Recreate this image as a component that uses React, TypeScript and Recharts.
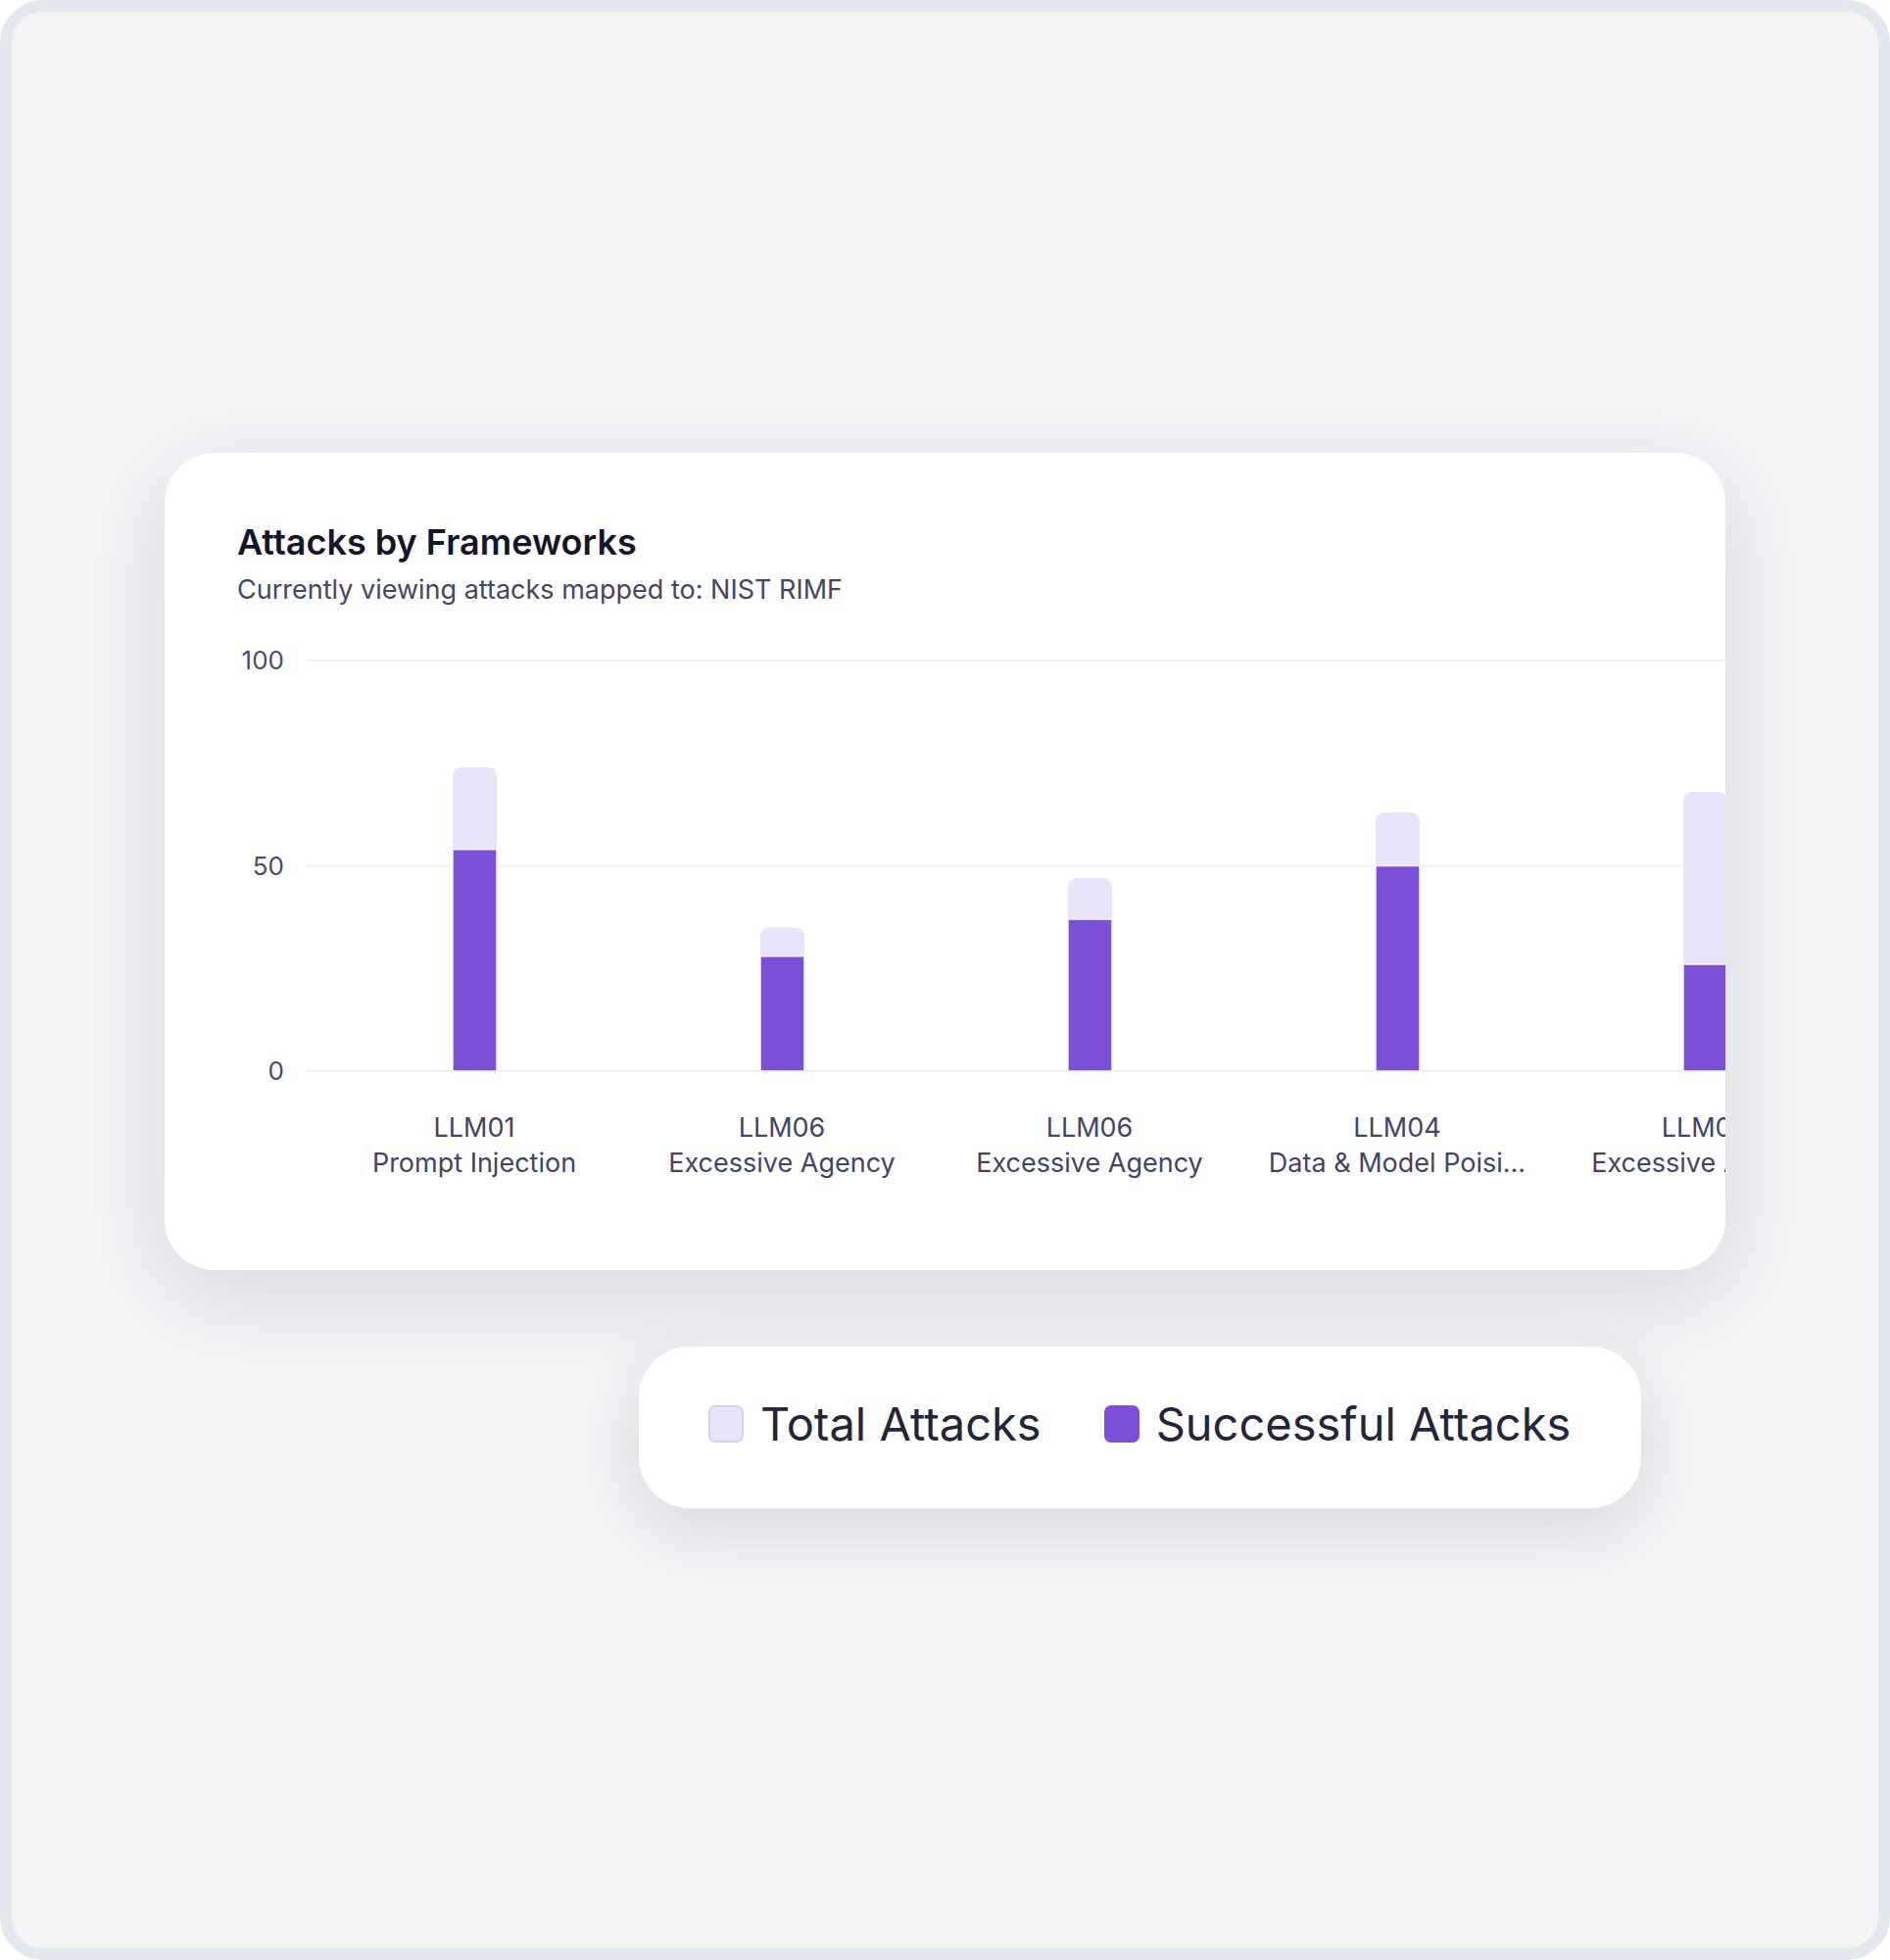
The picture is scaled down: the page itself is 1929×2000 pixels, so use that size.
import { BarChart, Bar, XAxis, YAxis, CartesianGrid } from 'recharts';

const categoryCodes = ['LLM01', 'LLM06', 'LLM06', 'LLM04', 'LLM06'];
const categoryNames = ['Prompt Injection', 'Excessive Agency', 'Excessive Agency', 'Data & Model Poisi...', 'Excessive Agency'];
const totalAttacks = [74, 35, 47, 63, 68];
const successfulAttacks = [54, 28, 37, 50, 26];
const yTicks = [0, 50, 100];

const seriesLabels = ['Total Attacks', 'Successful Attacks'];
const TOTAL_COLOR = '#e9e4f9';
const SUCCESS_COLOR = '#7b4fd6';

const chartData = categoryCodes.map((code, i) => ({
  slot: String(i),
  code,
  name: categoryNames[i],
  total: totalAttacks[i],
  successful: successfulAttacks[i],
}));

const FONT = 'Inter, "Noto Sans", sans-serif';

// two-line category label: code on top, framework name below
function FrameworkTick(props: any) {
  const { x, y, payload } = props;
  const i = Number(payload.value);
  return (
    <g transform={`translate(${x},${y})`}>
      <text textAnchor="middle" fill="#43436a" fontSize={27} fontFamily={FONT}>
        <tspan x={0} dy={29}>{categoryCodes[i]}</tspan>
        <tspan x={0} dy={36}>{categoryNames[i]}</tspan>
      </text>
    </g>
  );
}

function LegendBox() {
  const colors = [TOTAL_COLOR, SUCCESS_COLOR];
  const borders = ['#d9cdf5', '#7b4fd6'];
  return (
    <div
      style={{
        position: 'absolute',
        left: 652,
        top: 1374,
        width: 1023,
        height: 165,
        background: '#fff',
        borderRadius: 52,
        boxShadow: '0 20px 70px rgba(40,40,70,0.13)',
        display: 'flex',
        alignItems: 'center',
        paddingLeft: 71,
        paddingBottom: 8,
        boxSizing: 'border-box',
        fontFamily: FONT,
      }}
    >
      {seriesLabels.map((label, i) => (
        <div key={label} style={{ display: 'flex', alignItems: 'center', marginRight: i === 0 ? 64 : 0 }}>
          <div
            style={{
              width: 36,
              height: 38,
              borderRadius: 7,
              background: colors[i],
              border: `2px solid ${borders[i]}`,
              boxSizing: 'border-box',
              marginRight: 17,
            }}
          />
          <span style={{ fontSize: 47, color: '#24243a', lineHeight: 1 }}>{label}</span>
        </div>
      ))}
    </div>
  );
}

export default function App() {
  return (
    <div
      style={{
        position: 'absolute',
        left: 0,
        top: 0,
        width: 1929,
        height: 2000,
        boxSizing: 'border-box',
        border: '12px solid #e3e8f0',
        borderRadius: 44,
        background: '#f3f4f6',
        overflow: 'hidden',
      }}
    >
      <div
        style={{
          position: 'absolute',
          left: 168 - 12,
          top: 462 - 12,
          width: 1593,
          height: 834,
          background: '#fff',
          borderRadius: 51,
          boxShadow: '0 24px 90px rgba(40,40,70,0.13)',
          overflow: 'hidden',
          fontFamily: FONT,
        }}
      >
        <div style={{ position: 'absolute', left: 74, top: 70, fontSize: 36, fontWeight: 600, color: '#15152a', lineHeight: 1.2 }}>
          Attacks by Frameworks
        </div>
        <div style={{ position: 'absolute', left: 74, top: 124, fontSize: 27, color: '#454566', lineHeight: 1.2 }}>
          Currently viewing attacks mapped to: NIST RIMF
        </div>
        <div style={{ position: 'absolute', left: 0, top: 0 }}>
          <BarChart
            width={1729}
            height={780}
            data={chartData}
            margin={{ top: 212, right: 0, bottom: 0, left: 0 }}
            barSize={45}
          >
            <CartesianGrid vertical={false} stroke="#eeeef4" strokeWidth={2} />
            <XAxis
              xAxisId="back"
              dataKey="slot"
              hide
              padding={{ left: 14, right: 0 }}
            />
            <XAxis
              xAxisId="front"
              dataKey="slot"
              axisLine={false}
              tickLine={false}
              interval={0}
              height={149}
              padding={{ left: 14, right: 0 }}
              tick={<FrameworkTick />}
            />
            <YAxis
              domain={[0, 100]}
              ticks={yTicks}
              width={145}
              axisLine={false}
              tickLine={false}
              tickMargin={17}
              tick={{ fill: '#4b4b6b', fontSize: 26, fontFamily: FONT }}
            />
            <Bar
              xAxisId="back"
              dataKey="total"
              name={seriesLabels[0]}
              fill={TOTAL_COLOR}
              radius={[9, 9, 0, 0]}
              isAnimationActive={false}
            />
            <Bar
              xAxisId="front"
              dataKey="successful"
              name={seriesLabels[1]}
              fill={SUCCESS_COLOR}
              stroke="#f6f2ff"
              strokeWidth={1.5}
              isAnimationActive={false}
            />
          </BarChart>
        </div>
      </div>
      <div style={{ position: 'absolute', left: -12, top: -12 }}>
        <LegendBox />
      </div>
    </div>
  );
}
